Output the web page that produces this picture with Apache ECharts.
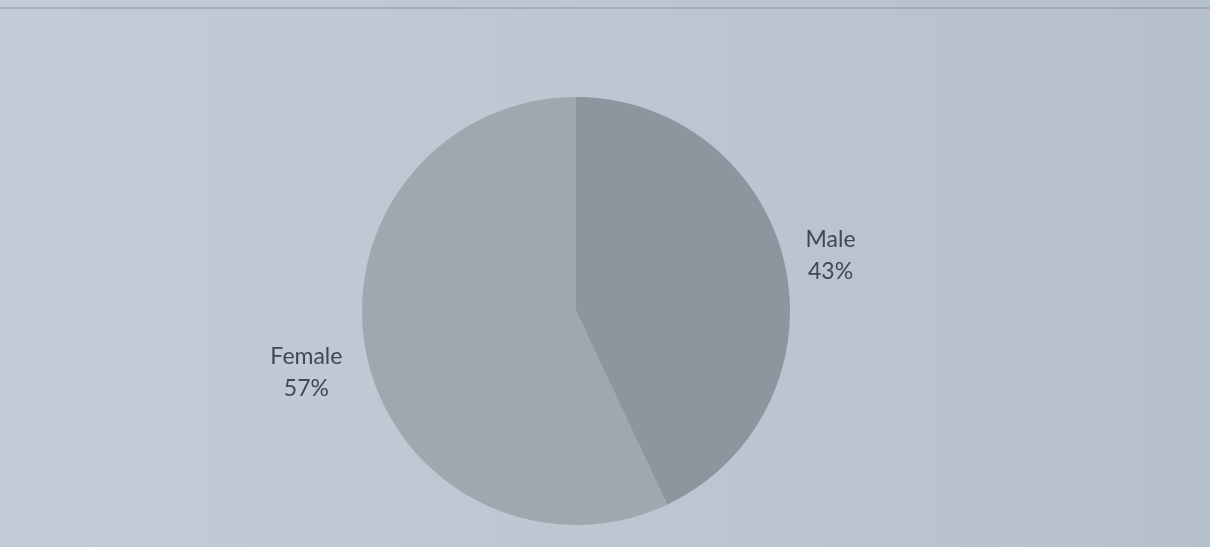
<!DOCTYPE html>
<html>
<head>
<meta charset="utf-8">
<script src="https://cdn.jsdelivr.net/npm/echarts@6/dist/echarts.min.js"></script>
<style>
  html, body { margin: 0; padding: 0; }
  #chart { width: 1210px; height: 547px; }
</style>
</head>
<body>
<div id="chart"></div>
<script>
// Gender split of respondents
const categories = ['Male', 'Female'];
const shares = [43, 57];
const sliceColors = ['#8d959e', '#a0a7af'];
// small nudges of each outside label from its default spot
const labelNudge = [[-4, -6], [0, 12]];

const chart = echarts.init(document.getElementById('chart'));

chart.setOption({
  backgroundColor: {
    type: 'linear', x: 0, y: 0, x2: 1, y2: 0,
    colorStops: [
      { offset: 0, color: '#c3ccd6' },
      { offset: 0.5, color: '#bdc6d1' },
      { offset: 1, color: '#b6c0cb' }
    ]
  },
  graphic: [
    {
      type: 'line',
      shape: { x1: 0, y1: 8, x2: 1210, y2: 8 },
      style: { stroke: '#8f98a3', lineWidth: 1.5, opacity: 0.7 },
      silent: true
    }
  ],
  series: [{
    type: 'pie',
    center: [576, 311],
    radius: 214,
    startAngle: 90,
    clockwise: true,
    avoidLabelOverlap: false,
    animation: false,
    data: categories.map((name, i) => ({
      name: name,
      value: shares[i],
      itemStyle: { color: sliceColors[i] }
    })),
    label: {
      show: true,
      position: 'outside',
      formatter: p => '{a|' + p.name + '}\n{a|' + Math.round(p.percent) + '%}',
      distanceToLabelLine: 5,
      rich: {
        a: {
          align: 'center',
          fontFamily: 'Lato, "Open Sans", sans-serif',
          fontSize: 23,
          color: '#424851',
          lineHeight: 32
        }
      }
    },
    labelLayout: p => ({ dx: labelNudge[p.dataIndex][0], dy: labelNudge[p.dataIndex][1] }),
    labelLine: { show: false, length: 12, length2: 8 },
    emphasis: { disabled: true }
  }]
});
</script>
</body>
</html>
